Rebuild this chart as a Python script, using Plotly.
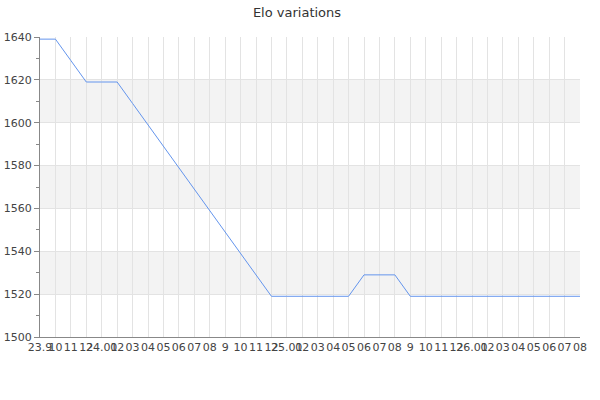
import plotly.graph_objects as go

# month index along the x axis and the Elo rating at each month
months = list(range(36))
elo = [1639, 1639, 1629, 1619, 1619, 1619, 1609, 1599, 1589, 1579,
       1569, 1559, 1549, 1539, 1529, 1519, 1519, 1519, 1519, 1519,
       1519, 1529, 1529, 1529, 1519, 1519, 1519, 1519, 1519, 1519,
       1519, 1519, 1519, 1519, 1519, 1519]
tick_labels = ['23.9', '10', '11', '12', '24.01', '02', '03', '04', '05', '06',
               '07', '08', '9', '10', '11', '12', '25.01', '02', '03', '04',
               '05', '06', '07', '08', '9', '10', '11', '12', '26.01', '02',
               '03', '04', '05', '06', '07', '08']
bands = [(1520, 1540), (1560, 1580), (1600, 1620)]

FONT = 'DejaVu Sans'

fig = go.Figure(go.Scatter(x=months, y=elo, mode='lines',
                           line=dict(color='#6495ed', width=1),
                           hoverinfo='x+y'))

for lo, hi in bands:
    fig.add_shape(type='rect', xref='paper', yref='y', x0=0, x1=1, y0=lo, y1=hi,
                  fillcolor='#f3f3f3', line=dict(width=0), layer='below')

fig.update_layout(
    title=dict(text='Elo variations', x=0.495, xanchor='center', y=0.968, yanchor='middle',
               font=dict(family=FONT, size=13, color='#333'), automargin=False),
    width=600, height=400,
    margin=dict(l=40, r=20, t=37, b=63, autoexpand=False),
    plot_bgcolor='white', paper_bgcolor='white',
    showlegend=False,
    font=dict(family=FONT, size=11, color='#444'),
)
fig.update_xaxes(range=[0, 35], tickvals=months, ticktext=tick_labels, tickangle=0,
                 showgrid=True, gridcolor='#e3e3e3', gridwidth=1,
                 showline=True, linecolor='#888', linewidth=1,
                 ticks='', zeroline=False, fixedrange=True, automargin=False)
fig.update_yaxes(range=[1500, 1640], dtick=20, showgrid=True, gridcolor='#e3e3e3',
                 showline=True, linecolor='#888', linewidth=1,
                 ticks='outside', ticklen=5, tickcolor='#888',
                 minor=dict(dtick=10, ticks='outside', ticklen=3, tickcolor='#888', showgrid=False),
                 zeroline=False, fixedrange=True, automargin=False)

# drop the page's default body margin so the chart sits at the window's corner
fig.write_html('out.html', config={'displayModeBar': False},
               post_script="document.body.style.margin = '0';")
